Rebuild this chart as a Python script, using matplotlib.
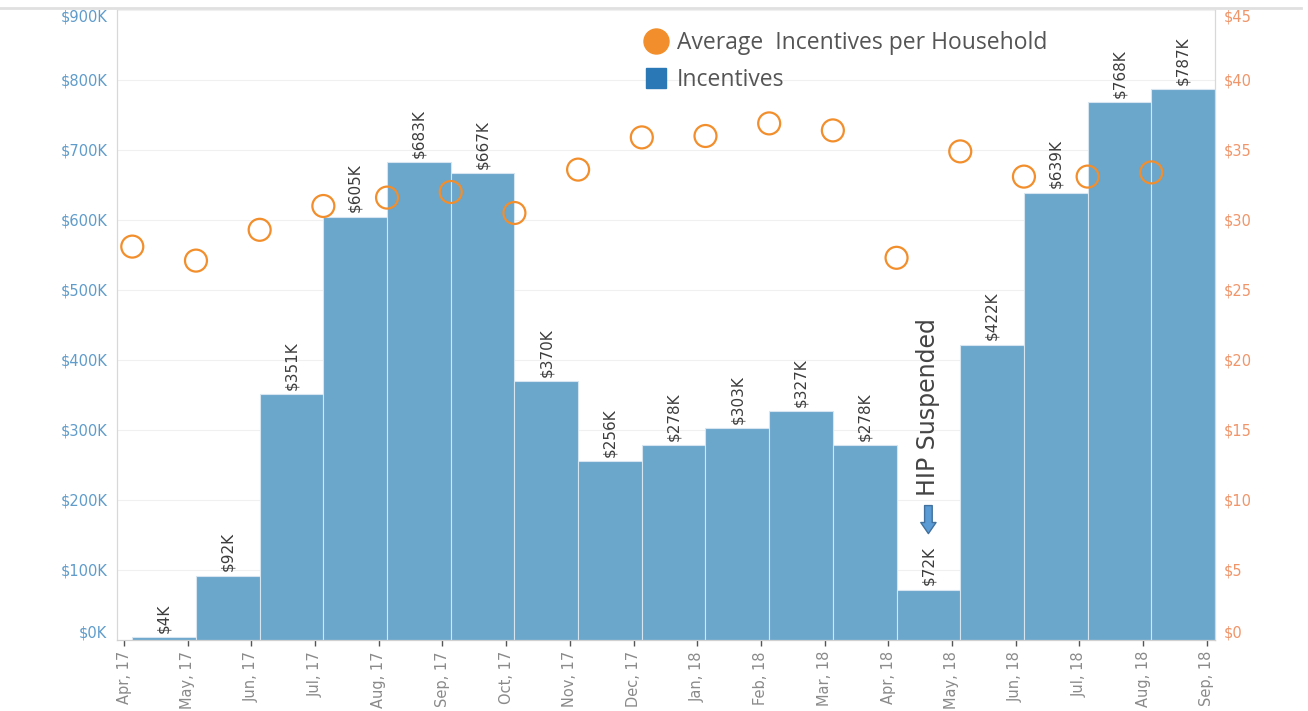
import matplotlib.pyplot as plt
from matplotlib.lines import Line2D

months = ['Apr, 17', 'May, 17', 'Jun, 17', 'Jul, 17', 'Aug, 17', 'Sep, 17', 'Oct, 17', 'Nov, 17', 'Dec, 17',
          'Jan, 18', 'Feb, 18', 'Mar, 18', 'Apr, 18', 'May, 18', 'Jun, 18', 'Jul, 18', 'Aug, 18', 'Sep, 18']
incentives = [4, 92, 351, 605, 683, 667, 370, 256, 278, 303, 327, 278, 72, 422, 639, 768, 787]  # $K
avg_per_household = [28.1, 27.1, 29.3, 31.0, 31.6, 32.0, 30.5, 33.6, 35.9, 36.0, 36.9, 36.4,
                     27.3, 34.9, 33.1, 33.1, 33.4]
left_ticks = [0, 100, 200, 300, 400, 500, 600, 700, 800, 900]
right_ticks = [0, 5, 10, 15, 20, 25, 30, 35, 40, 45]

fig = plt.figure(figsize=(13.08, 7.11), dpi=100)
ax = fig.add_axes([117 / 1308, 1 - 640 / 711, (1215 - 117) / 1308, 630 / 711])
ax2 = ax.twinx()

off = 0.13
xs = [i + off for i in range(len(incentives))]
ax.bar(xs, incentives, width=1.0, align='edge', color='#6ba6cb', edgecolor='#d6e5f0', linewidth=0.8, zorder=2)
for x, v in zip(xs, incentives):
    ax.text(x + 0.5, v + 6, '$%dK' % v, rotation=90, ha='center', va='bottom',
            fontsize=11, color='#3c3c3c', zorder=3)

ax2.scatter(xs, avg_per_household, s=250, facecolors='none', edgecolors='#f28e2b', linewidths=1.6, zorder=4)

ax.set_xlim(-0.11, 17.13)
ax.set_ylim(0, 900)
ax2.set_ylim(0, 45)
ax.set_xticks(range(len(months)))
ax.set_xticklabels(months, rotation=90, fontsize=10.5, color='#8a8a8a')
ax.tick_params(axis='x', length=4, width=1, color='#555555', pad=4)

ax.set_yticks(left_ticks)
ax.set_yticklabels(['$%dK' % t for t in left_ticks], fontsize=10.5, color='#5f9ccb')
ax.tick_params(axis='y', length=0, pad=7)
ax2.set_yticks(right_ticks)
ax2.set_yticklabels(['$%d' % t for t in right_ticks], fontsize=10.5, color='#f0956a')
ax2.tick_params(axis='y', length=0, pad=6)
for lbls in (ax.get_yticklabels(), ax2.get_yticklabels()):
    lbls[0].set_va('bottom')
    lbls[-1].set_va('top')

ax.grid(axis='y', color='#f0f0f0', linewidth=0.8, zorder=0)
ax.set_axisbelow(True)
for a in (ax, ax2):
    a.spines['top'].set_visible(False)
    a.spines['left'].set_color('#d8d8d8')
    a.spines['right'].set_color('#d8d8d8')
    a.spines['bottom'].set_color('#d0d0d0')
fig.add_artist(Line2D([0.0, 0.995], [1 - 8 / 711, 1 - 8 / 711], color='#e0e0e0', linewidth=2))

# HIP suspended note above the Apr 18 bar
hx = xs[12] + 0.5
ax.text(hx, 205, 'HIP Suspended', rotation=90, ha='center', va='bottom', fontsize=17,
        color='#444444', zorder=5)
ax.annotate('', xy=(hx, 148), xytext=(hx, 196),
            arrowprops=dict(arrowstyle='simple,head_width=1.1,head_length=0.8,tail_width=0.55',
                            fc='#5b9bd5', ec='#41719c', lw=1), zorder=5)

handles = [Line2D([], [], marker='o', linestyle='none', markersize=18, color='#f28e2b'),
           Line2D([], [], marker='s', linestyle='none', markersize=15, color='#2a78b5')]
ax.legend(handles, ['Average  Incentives per Household', 'Incentives'], loc='upper left',
          bbox_to_anchor=(0.46, 1.0), frameon=False, labelspacing=0.6, handlelength=1.2,
          handletextpad=0.3, labelcolor='#555555', prop={'family': 'Open Sans', 'size': 16.5})

fig.savefig('out.png', dpi=100)
